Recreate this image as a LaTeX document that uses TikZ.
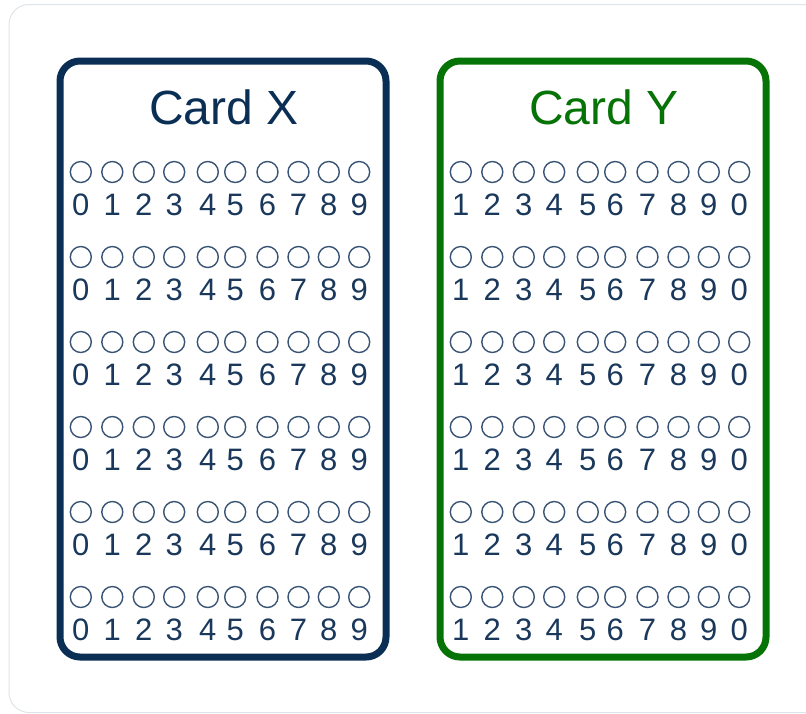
\documentclass[tikz,border=0pt]{standalone}
\usepackage{fontspec}
\setmainfont{Liberation Sans}
\definecolor{navy}{HTML}{0B2E55}
\definecolor{cardgreen}{HTML}{067306}
\definecolor{digitcol}{HTML}{1A385B}
\definecolor{circcol}{HTML}{3A5475}
\definecolor{framecol}{HTML}{DEE4EA}
\tikzset{
  cardbox/.style={line width=7pt, rounded corners=20pt, outer sep=0pt, inner sep=0pt},
  title/.style={font=\fontsize{48}{50}\selectfont, anchor=center},
  bubble/.style={circle, draw=circcol, line width=1.4pt, minimum size=21pt, inner sep=0pt},
  digit/.style={text=digitcol, font=\fontsize{31}{32}\selectfont, anchor=center, inner sep=0pt}
}
\begin{document}
\begin{tikzpicture}[x=1pt,y=-1pt]
\useasboundingbox (0,0) rectangle (806,713);
\begin{scope}
\clip (0,0) rectangle (806,713);
\draw[framecol, line width=1pt, rounded corners=20pt] (9,4.5) rectangle (830,712.5);
\end{scope}
\node[draw=navy, cardbox, minimum width=326pt, minimum height=596pt, anchor=north west] (cardX) at (60,61) {};
\node[draw=cardgreen, cardbox, minimum width=326pt, minimum height=596pt, anchor=north west] (cardY) at (440,61) {};
\node[title, text=navy] (titleX) at (224,107) {Card X};
\node[title, text=cardgreen] (titleY) at (604,107) {Card Y};
\foreach \r in {0,...,5}{
  \pgfmathsetmacro{\yc}{172+85*\r}
  \pgfmathsetmacro{\yd}{205+85*\r}
  \foreach \xo [count=\i from 0] in {80.8,112.3,143.8,174.2,207.8,235.2,267.5,298.5,328.8,359.2}{
    \node[bubble] (cx\r-\i) at (\xo,\yc) {};
    \node[digit] (dx\r-\i) at (\xo,\yd) {\i};
    \pgfmathtruncatemacro{\dy}{mod(\i+1,10)}
    \node[bubble] (cy\r-\i) at (\xo+380,\yc) {};
    \node[digit] (dy\r-\i) at (\xo+380,\yd) {\dy};
  }
}
\end{tikzpicture}
\end{document}
